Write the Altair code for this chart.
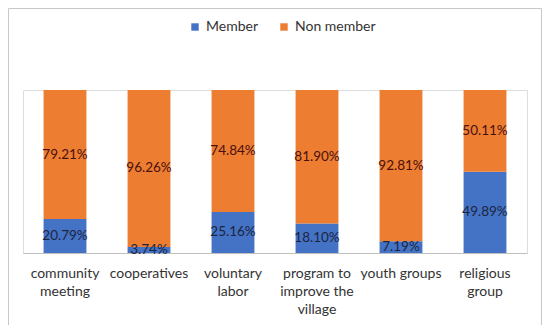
import altair as alt
import pandas as pd

categories = ["community\nmeeting", "cooperatives", "voluntary\nlabor",
              "program to\nimprove the\nvillage", "youth groups", "religious\ngroup"]
groups = ["Member", "Non member"]
member = [20.79, 3.74, 25.16, 18.10, 7.19, 49.89]
non_member = [79.21, 96.26, 74.84, 81.90, 92.81, 50.11]
colors = ["#4472C4", "#ED7D31"]

rows = []
for c, m, n in zip(categories, member, non_member):
    rows.append({"cat": c, "group": groups[0], "value": m, "ord": 0})
    rows.append({"cat": c, "group": groups[1], "value": n, "ord": 1})
df = pd.DataFrame(rows)

FONT = "Lato"

x_enc = alt.X("cat:N", sort=categories, title=None,
              scale=alt.Scale(paddingInner=0.49, paddingOuter=0.245),
              axis=alt.Axis(labelAngle=0, ticks=False, domainColor="#bfbfbf",
                            labelExpr="split(datum.label, '\\n')",
                            labelFont=FONT, labelFontSize=14, labelColor="#333333",
                            labelPadding=13, labelLineHeight=18, labelBaseline="top"))
y_scale = alt.Scale(domain=[0, 100], nice=False)

base = alt.Chart(df).transform_stack(
    stack="value", groupby=["cat"], as_=["v0", "v1"],
    sort=[alt.SortField("ord", order="ascending")]
)

bars = base.mark_bar().encode(
    x=x_enc,
    y=alt.Y("v0:Q", scale=y_scale, axis=None),
    y2="v1:Q",
    color=alt.Color("group:N", scale=alt.Scale(domain=groups, range=colors),
                    legend=alt.Legend(title=None, orient="none", direction="horizontal",
                                      legendX=165, legendY=-70, symbolType="square",
                                      symbolSize=55, labelFont=FONT, labelFontSize=14,
                                      labelColor="#333333", columnPadding=18)),
)

texts = base.transform_calculate(
    mid="(datum.v0 + datum.v1) / 2",
    lab="format(datum.value, '.2f') + '%'"
).mark_text(font=FONT, fontSize=13.5).encode(
    x=alt.X("cat:N", sort=categories),
    y=alt.Y("mid:Q", scale=y_scale),
    text="lab:N",
    color=alt.condition("datum.group == 'Member'", alt.value("#1c2540"), alt.value("#4a1010")),
)

border = alt.Chart(pd.DataFrame({"a": [0]})).mark_rect(
    fill=None, stroke="#c8c8c8", strokeWidth=1, clip=False
).encode(x=alt.value(-14.5), x2=alt.value(518.5), y=alt.value(-81.5), y2=alt.value(237))

chart = alt.layer(border, bars, texts).properties(
    width=504, height=163,
    autosize=alt.AutoSizeParams(type="none"),
    padding={"left": 15, "top": 82, "right": 15, "bottom": 72},
).configure_view(stroke=None).configure(background="white")

chart.save("out.html", embed_options={"renderer": "svg", "actions": False})
